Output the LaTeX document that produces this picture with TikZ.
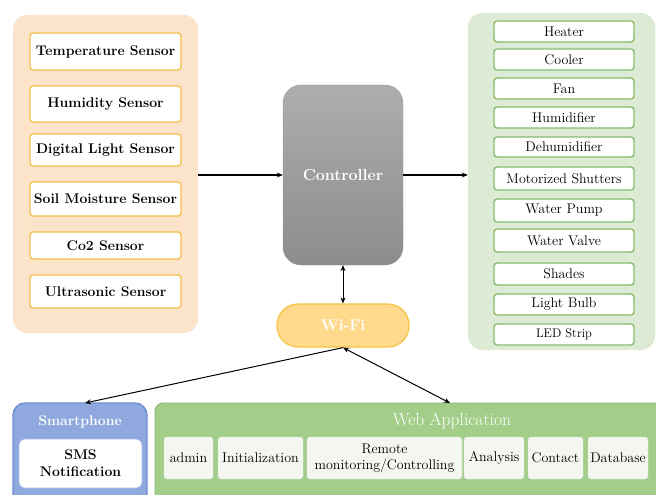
\documentclass[tikz,border=0pt]{standalone}
\usetikzlibrary{arrows.meta}
\definecolor{peach}{HTML}{FCE4CB}
\definecolor{amber}{HTML}{F2C14E}
\definecolor{sage}{HTML}{DDEBD4}
\definecolor{leaf}{HTML}{86BC6C}
\definecolor{webgreen}{HTML}{A3CE89}
\definecolor{webbox}{HTML}{F3F7F0}
\definecolor{phoneblue}{HTML}{8FA8DE}
\definecolor{phoneedge}{HTML}{6E8ED3}
\definecolor{wifi}{HTML}{FFD98C}
\definecolor{wifiedge}{HTML}{F5C242}
\tikzset{
  panel/.style={rounded corners=14pt, inner sep=0pt},
  sensorbox/.style={draw=amber, line width=1.4pt, fill=white, rounded corners=3pt,
    minimum width=151pt, inner sep=0pt, font=\fontsize{14}{16}\selectfont\bfseries},
  actbox/.style={draw=leaf, line width=1.4pt, fill=white, rounded corners=3pt,
    minimum width=140pt, inner sep=0pt, font=\fontsize{14}{16}\selectfont},
  webitem/.style={fill=webbox, draw=webbox!85!gray, line width=0.4pt, rounded corners=3pt,
    minimum height=42pt, inner sep=0pt, align=center, font=\fontsize{14}{16}\selectfont},
  flow/.style={line width=1.3pt, -{Stealth[length=6pt,width=5pt]}},
  link/.style={line width=1pt, {Stealth[length=6pt,width=5pt]}-{Stealth[length=6pt,width=5pt]}},
}
\begin{document}
\begin{tikzpicture}[x=1pt,y=-1pt]
\useasboundingbox (0,0) rectangle (656,495);

% sensor group
\node[panel, fill=peach, minimum width=185pt, minimum height=318pt] (sens) at (105.5,174) {};
\node[sensorbox, minimum height=37pt] (s1) at (105.5,51.5) {Temperature Sensor};
\node[sensorbox, minimum height=36pt] (s2) at (105.5,104) {Humidity Sensor};
\node[sensorbox, minimum height=32pt] (s3) at (105.5,150) {Digital Light Sensor};
\node[sensorbox, minimum height=34pt] (s4) at (105.5,199) {Soil Moisture Sensor};
\node[sensorbox, minimum height=27pt] (s5) at (105.5,245.5) {Co2 Sensor};
\node[sensorbox, minimum height=33pt] (s6) at (105.5,291.5) {Ultrasonic Sensor};

% actuator group
\node[panel, fill=sage, minimum width=187pt, minimum height=337pt] (act) at (561.5,181.5) {};
\node[actbox, minimum height=21pt] (a1) at (564,31.5) {Heater};
\node[actbox, minimum height=21pt] (a2) at (564,59.5) {Cooler};
\node[actbox, minimum height=21pt] (a3) at (564,88.5) {Fan};
\node[actbox, minimum height=21pt] (a4) at (564,117.5) {Humidifier};
\node[actbox, minimum height=20pt] (a5) at (564,147) {Dehumidifier};
\node[actbox, minimum height=23pt] (a6) at (564,178.5) {Motorized Shutters};
\node[actbox, minimum height=23pt] (a7) at (564,210.5) {Water Pump};
\node[actbox, minimum height=23pt] (a8) at (564,240.5) {Water Valve};
\node[actbox, minimum height=22pt] (a9) at (564,274) {Shades};
\node[actbox, minimum height=21pt] (a10) at (564,304.5) {Light Bulb};
\node[actbox, minimum height=21pt, font=\fontsize{12.5}{14}\selectfont] (a11) at (564,334.5) {LED Strip};

% controller
\node[rounded corners=18pt, top color=black!32, bottom color=black!45,
  draw=black!40, line width=0.4pt, minimum width=120pt, minimum height=180pt,
  text=white, font=\fontsize{16}{18}\selectfont\bfseries] (ctrl) at (343,175) {Controller};

% wi-fi
\node[rounded corners=21pt, fill=wifi, draw=wifiedge, line width=1.2pt,
  minimum width=132pt, minimum height=43pt, inner sep=0pt,
  text=white, font=\fontsize{15.5}{17}\selectfont\bfseries] (wifi) at (343,325.5) {Wi-Fi};

% smartphone
\node[rounded corners=12pt, fill=phoneblue, draw=phoneedge, line width=1.4pt,
  minimum width=134pt, minimum height=104pt, inner sep=0pt] (phone) at (80,455) {};
\node[text=white, font=\fontsize{14}{16}\selectfont\bfseries] (phonetitle) at (80,422) {Smartphone};
\node[fill=white, draw=phoneedge!60, line width=0.8pt, rounded corners=6pt,
  minimum width=123pt, minimum height=49pt, inner sep=0pt, align=center,
  font=\fontsize{14}{17}\selectfont\bfseries] (sms) at (80.5,463.5) {SMS\\Notification};

% web application
\node[rounded corners=8pt, fill=webgreen, draw=webgreen!85!black, line width=0.8pt,
  minimum width=510pt, minimum height=104pt, inner sep=0pt] (web) at (410,455) {};
\node[text=white, font=\fontsize{17.5}{19}\selectfont] (webtitle) at (452,421) {Web Application};
\node[webitem, minimum width=49pt] (w1) at (188.5,458) {admin};
\node[webitem, minimum width=85pt] (w2) at (260.5,458) {Initialization};
\node[webitem, minimum width=155pt] (w3) at (384.5,458) {Remote\\monitoring/Controlling};
\node[webitem, minimum width=60pt] (w4) at (494,458) {Analysis};
\node[webitem, minimum width=55pt] (w5) at (555.5,458) {Contact};
\node[webitem, minimum width=60pt] (w6) at (618,458) {Database};

% connectors
\draw[flow] (ctrl.west -| sens.east) -- (ctrl.west);
\draw[flow] (ctrl.east) -- (ctrl.east -| act.west);
\draw[link] (ctrl.south) -- (wifi.north);
\coordinate (webin) at (450,403);
\coordinate (phonein) at (85,403);
\draw[line width=1pt, -{Stealth[length=6pt,width=5pt]}] (wifi.south) -- (phonein);
\draw[link] (wifi.south) -- (webin);
\end{tikzpicture}
\end{document}
